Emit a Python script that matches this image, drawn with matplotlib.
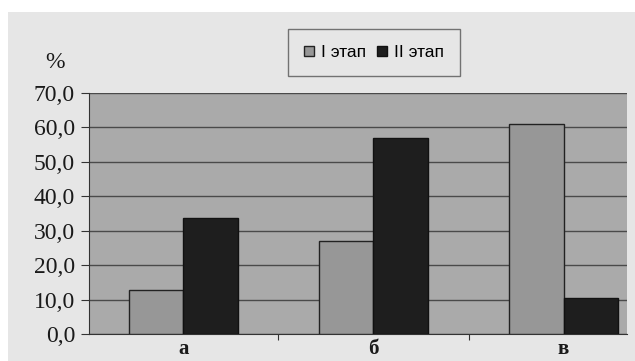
import matplotlib
matplotlib.use("Agg")
import matplotlib.pyplot as plt
from matplotlib import font_manager
import numpy as np

categories = ["а", "б", "в"]
stage1 = [12.8, 27.1, 60.9]
stage2 = [33.7, 57.0, 10.4]
series_names = ["I этап", "II этап"]
yticks = [0, 10, 20, 30, 40, 50, 60, 70]
ytick_labels = ["0,0", "10,0", "20,0", "30,0", "40,0", "50,0", "60,0", "70,0"]

names = {f.name for f in font_manager.fontManager.ttflist}
if "Liberation Sans Narrow" in names:
    leg_font, leg_size = "Liberation Sans Narrow", 14.5
else:
    leg_font, leg_size = "Liberation Sans", 12.5

fig = plt.figure(figsize=(6.35, 3.61), dpi=100)
fig.patch.set_facecolor("#e6e6e6")
fig.patches.append(plt.Rectangle((0, 1 - 12 / 361), 1, 12 / 361, transform=fig.transFigure,
                                 facecolor="white", edgecolor="none", zorder=0))
fig.patches.append(plt.Rectangle((0, 0), 8 / 635, 1, transform=fig.transFigure,
                                 facecolor="white", edgecolor="none", zorder=0))

ax = fig.add_axes([89 / 635, 27 / 361, 538 / 635, 241 / 361])
ax.set_facecolor("#aaaaaa")

x = np.arange(len(categories))
w = 0.287
ax.bar(x - w / 2, stage1, width=w, color="#979797", edgecolor="#222222", linewidth=1.0,
       label=series_names[0], zorder=3)
ax.bar(x + w / 2, stage2, width=w, color="#1e1e1e", edgecolor="#111111", linewidth=1.0,
       label=series_names[1], zorder=3)

ax.set_ylim(0, 70)
ax.set_xlim(-0.497, 2.334)
ax.set_yticks(yticks)
ax.set_yticklabels(ytick_labels, fontfamily="Liberation Serif", fontsize=17, color="#1a1a1a")
ax.yaxis.grid(True, color="#4a4a4a", linewidth=1.0, zorder=1)
ax.set_axisbelow(True)

ax.set_xticks([0.5, 1.5])
ax.set_xticklabels(["", ""])
ax.tick_params(axis="x", length=4, color="#333333", direction="out")
ax.tick_params(axis="y", length=6, color="#333333", direction="out", pad=4)
for i, c in enumerate(categories):
    ax.text(i, -7.4, c, ha="center", va="bottom", fontfamily="Liberation Serif",
            fontsize=15, fontweight="bold", color="#1a1a1a")

for s in ["top", "right"]:
    ax.spines[s].set_visible(False)
ax.spines["left"].set_color("#333333")
ax.spines["bottom"].set_color("#333333")

fig.text(55 / 635, 1 - 63 / 361, "%", ha="center", va="center", fontfamily="Liberation Serif",
         fontsize=17, color="#1a1a1a")

leg = fig.legend(loc="center", bbox_to_anchor=(374 / 635, 1 - 52.5 / 361), ncol=2,
                 frameon=True, fancybox=False, edgecolor="#555555", facecolor="#e6e6e6",
                 prop={"family": leg_font, "size": leg_size}, handlelength=0.6,
                 handleheight=0.5, handletextpad=0.4, columnspacing=0.6,
                 borderpad=0.9, borderaxespad=0)
leg.get_frame().set_linewidth(1.0)

fig.savefig("out.png", dpi=100, facecolor=fig.get_facecolor())
